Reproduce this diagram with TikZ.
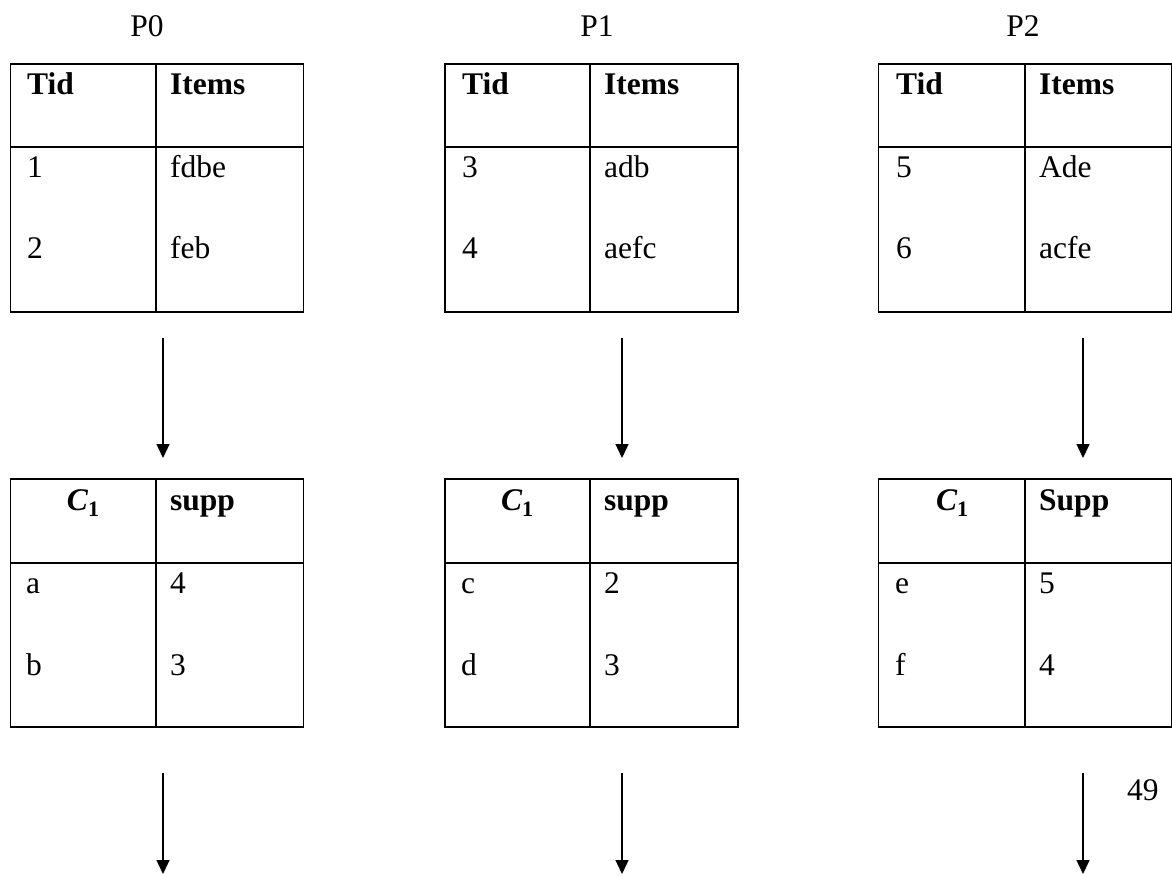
\documentclass[tikz,border=0pt]{standalone}
\usepackage{fontspec}
\setmainfont{Liberation Serif}
\usetikzlibrary{arrows.meta}

\begin{document}
\begin{tikzpicture}[x=1pt, y=-1pt,
	box/.style={draw, line width=1.8pt, minimum width=293pt, minimum height=248pt, inner sep=0pt},
	rule/.style={line width=1.8pt},
	txt/.style={anchor=base west, inner sep=0pt, font=\fontsize{31.5}{36}\selectfont},
	hd/.style={txt, font=\fontsize{31.5}{36}\selectfont\bfseries},
	flow/.style={line width=1.4pt, -{Triangle[width=13pt, length=14pt]}}]
				\useasboundingbox (0,0) rectangle (1172,875);

				\node[txt, anchor=base] (p0) at (147,37) {P0};
				\node[txt, anchor=base] (p1) at (597,37) {P1};
				\node[txt, anchor=base] (p2) at (1023,37) {P2};

				\node[box] (t0) at (157,188) {};
				\draw[rule] (156,64) -- (156,312);
				\draw[rule] (10,147) -- (304,147);
				\node[hd] (t0a) at (27,94) {Tid};
				\node[hd] (t0b) at (170,94) {Items};
				\node[txt] (t0r1) at (27,177) {1};
				\node[txt] (t0i1) at (170,177) {fdbe};
				\node[txt] (t0r2) at (27,258) {2};
				\node[txt] (t0i2) at (170,258) {feb};

				\node[box] (t1) at (591.5,188) {};
				\draw[rule] (590,64) -- (590,312);
				\draw[rule] (445,147) -- (738,147);
				\node[hd] (t1a) at (462,94) {Tid};
				\node[hd] (t1b) at (604,94) {Items};
				\node[txt] (t1r1) at (462,177) {3};
				\node[txt] (t1i1) at (604,177) {adb};
				\node[txt] (t1r2) at (462,258) {4};
				\node[txt] (t1i2) at (604,258) {aefc};

				\node[box] (t2) at (1025,188) {};
				\draw[rule] (1025,64) -- (1025,312);
				\draw[rule] (879,147) -- (1172,147);
				\node[hd] (t2a) at (896,94) {Tid};
				\node[hd] (t2b) at (1039,94) {Items};
				\node[txt] (t2r1) at (896,177) {5};
				\node[txt] (t2i1) at (1039,177) {Ade};
				\node[txt] (t2r2) at (896,258) {6};
				\node[txt] (t2i2) at (1039,258) {acfe};

				\coordinate (a0s) at (163,338);
				\coordinate (a0e) at (163,458);
				\coordinate (a1s) at (622,338);
				\coordinate (a1e) at (622,458);
				\coordinate (a2s) at (1083,338);
				\coordinate (a2e) at (1083,458);
				\draw[flow] (a0s) -- (a0e);
				\draw[flow] (a1s) -- (a1e);
				\draw[flow] (a2s) -- (a2e);

				\node[box] (c0) at (157,603) {};
				\draw[rule] (156,479) -- (156,727);
				\draw[rule] (10,563) -- (304,563);
				\node[hd, anchor=base] (c0a) at (83,510) {\itshape C\raisebox{-6pt}{\fontsize{22}{24}\selectfont\upshape 1}};
				\node[hd] (c0b) at (170,510) {supp};
				\node[txt] (c0r1) at (26,593) {a};
				\node[txt] (c0s1) at (170,593) {4};
				\node[txt] (c0r2) at (26,675) {b};
				\node[txt] (c0s2) at (170,675) {3};

				\node[box] (c1) at (591.5,603) {};
				\draw[rule] (590,479) -- (590,727);
				\draw[rule] (445,563) -- (738,563);
				\node[hd, anchor=base] (c1a) at (517,510) {\itshape C\raisebox{-6pt}{\fontsize{22}{24}\selectfont\upshape 1}};
				\node[hd] (c1b) at (604,510) {supp};
				\node[txt] (c1r1) at (461,593) {c};
				\node[txt] (c1s1) at (604,593) {2};
				\node[txt] (c1r2) at (461,675) {d};
				\node[txt] (c1s2) at (604,675) {3};

				\node[box] (c2) at (1025,603) {};
				\draw[rule] (1025,479) -- (1025,727);
				\draw[rule] (879,563) -- (1172,563);
				\node[hd, anchor=base] (c2a) at (952,510) {\itshape C\raisebox{-6pt}{\fontsize{22}{24}\selectfont\upshape 1}};
				\node[hd] (c2b) at (1039,510) {Supp};
				\node[txt] (c2r1) at (895,593) {e};
				\node[txt] (c2s1) at (1039,593) {5};
				\node[txt] (c2r2) at (895,675) {f};
				\node[txt] (c2s2) at (1039,675) {4};

				\coordinate (b0s) at (163,773);
				\coordinate (b0e) at (163,874);
				\coordinate (b1s) at (622,773);
				\coordinate (b1e) at (622,874);
				\coordinate (b2s) at (1083,773);
				\coordinate (b2e) at (1083,874);
				\draw[flow] (b0s) -- (b0e);
				\draw[flow] (b1s) -- (b1e);
				\draw[flow] (b2s) -- (b2e);

				\node[txt] (pg) at (1127,800) {49};
			\end{tikzpicture}
\end{document}
